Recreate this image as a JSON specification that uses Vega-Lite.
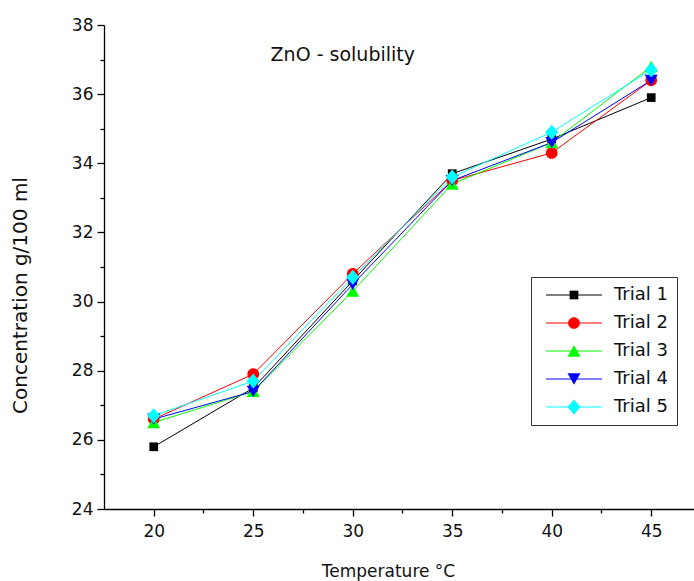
{
  "$schema": "https://vega.github.io/schema/vega-lite/v6.json",
  "autosize": "none",
  "width": 590,
  "height": 484,
  "padding": {"left": 104, "top": 25, "right": 0, "bottom": 72},
  "background": "white",
  "config": {
    "view": {"stroke": null},
    "font": "DejaVu Sans",
    "axis": {
      "grid": false,
      "domainColor": "#000000",
      "domainWidth": 1.3,
      "tickColor": "#000000",
      "tickWidth": 1.3,
      "labelColor": "#111111",
      "labelFont": "DejaVu Sans",
      "labelFontSize": 17,
      "titleFont": "DejaVu Sans",
      "titleFontSize": 17,
      "titleFontWeight": "normal",
      "titleColor": "#111111",
      "labelOverlap": false
    }
  },
  "data": {
    "values": [
      {"trial": "Trial 1", "temp": 20, "conc": 25.8},
      {"trial": "Trial 1", "temp": 25, "conc": 27.5},
      {"trial": "Trial 1", "temp": 30, "conc": 30.6},
      {"trial": "Trial 1", "temp": 35, "conc": 33.7},
      {"trial": "Trial 1", "temp": 40, "conc": 34.7},
      {"trial": "Trial 1", "temp": 45, "conc": 35.9},
      {"trial": "Trial 2", "temp": 20, "conc": 26.6},
      {"trial": "Trial 2", "temp": 25, "conc": 27.9},
      {"trial": "Trial 2", "temp": 30, "conc": 30.8},
      {"trial": "Trial 2", "temp": 35, "conc": 33.5},
      {"trial": "Trial 2", "temp": 40, "conc": 34.3},
      {"trial": "Trial 2", "temp": 45, "conc": 36.4},
      {"trial": "Trial 3", "temp": 20, "conc": 26.5},
      {"trial": "Trial 3", "temp": 25, "conc": 27.4},
      {"trial": "Trial 3", "temp": 30, "conc": 30.3},
      {"trial": "Trial 3", "temp": 35, "conc": 33.4},
      {"trial": "Trial 3", "temp": 40, "conc": 34.6},
      {"trial": "Trial 3", "temp": 45, "conc": 36.8},
      {"trial": "Trial 4", "temp": 20, "conc": 26.6},
      {"trial": "Trial 4", "temp": 25, "conc": 27.4},
      {"trial": "Trial 4", "temp": 30, "conc": 30.5},
      {"trial": "Trial 4", "temp": 35, "conc": 33.5},
      {"trial": "Trial 4", "temp": 40, "conc": 34.6},
      {"trial": "Trial 4", "temp": 45, "conc": 36.4},
      {"trial": "Trial 5", "temp": 20, "conc": 26.7},
      {"trial": "Trial 5", "temp": 25, "conc": 27.7},
      {"trial": "Trial 5", "temp": 30, "conc": 30.7},
      {"trial": "Trial 5", "temp": 35, "conc": 33.6},
      {"trial": "Trial 5", "temp": 40, "conc": 34.9},
      {"trial": "Trial 5", "temp": 45, "conc": 36.7}
    ]
  },
  "encoding": {
    "x": {
      "field": "temp",
      "type": "quantitative",
      "scale": {"domain": [17.5, 47.15], "nice": false, "zero": false},
      "axis": {
        "title": "Temperature \u00b0C",
        "values": [20, 22.5, 25, 27.5, 30, 32.5, 35, 37.5, 40, 42.5, 45],
        "labelExpr": "datum.value % 5 === 0 ? datum.label : ''",
        "tickSize": {"condition": {"test": "datum.value % 5 === 0", "value": 7}, "value": 4},
        "labelPadding": 7,
        "titleAlign": "center",
        "titleBaseline": "middle",
        "titleX": 284,
        "titleY": 62
      }
    },
    "y": {
      "field": "conc",
      "type": "quantitative",
      "scale": {"domain": [24, 38], "nice": false, "zero": false},
      "axis": {
        "title": "Concentration g/100 ml",
        "titleFontSize": 20,
        "values": [24, 25, 26, 27, 28, 29, 30, 31, 32, 33, 34, 35, 36, 37, 38],
        "labelExpr": "datum.value % 2 === 0 ? datum.label : ''",
        "tickSize": {"condition": {"test": "datum.value % 2 === 0", "value": 7}, "value": 4},
        "labelPadding": 4,
        "titleAngle": -90,
        "titleAlign": "center",
        "titleBaseline": "middle",
        "titleX": -84,
        "titleY": 270
      }
    }
  },
  "layer": [
    {
      "mark": {"type": "line", "strokeWidth": 1},
      "encoding": {
        "stroke": {
          "field": "trial",
          "type": "nominal",
          "scale": {"range": ["#000000", "#ff0000", "#00ff00", "#0000ff", "#00ffff"]},
          "legend": {
            "title": null,
            "orient": "none",
            "legendX": 427,
            "legendY": 252,
            "padding": 9,
            "strokeColor": "#333333",
            "symbolType": "M-5.6,0H5.6",
            "symbolSize": 100,
            "symbolStrokeWidth": 1,
            "symbolOffset": 25,
            "labelOffset": 31,
            "labelFontSize": 18,
            "labelFont": "DejaVu Sans",
            "labelOpacity": 0,
            "rowPadding": 10
          }
        }
      }
    },
    {
      "mark": {"type": "point", "filled": true, "size": 100, "opacity": 1},
      "encoding": {
        "color": {
          "field": "trial",
          "type": "nominal",
          "scale": {
            "domain": ["Trial 1", "Trial 2", "Trial 3", "Trial 4", "Trial 5"],
            "range": ["#000000", "#ff0000", "#00ff00", "#0000ff", "#00ffff"]
          },
          "legend": {
            "title": null,
            "orient": "none",
            "legendX": 427,
            "legendY": 252,
            "padding": 9,
            "symbolSize": 100,
            "symbolOffset": 25,
            "labelOffset": 31,
            "labelFontSize": 18,
            "labelFont": "DejaVu Sans",
            "labelColor": "#111111",
            "rowPadding": 10
          }
        },
        "shape": {
          "field": "trial",
          "type": "nominal",
          "scale": {
            "domain": ["Trial 1", "Trial 2", "Trial 3", "Trial 4", "Trial 5"],
            "range": [
              "M-0.87,-0.87H0.87V0.87H-0.87Z",
              "M1.17,0A1.17,1.17,0,1,1,-1.17,0A1.17,1.17,0,1,1,1.17,0Z",
              "M0,-1.13L1.3,1.13H-1.3Z",
              "M0,1.13L1.3,-1.13H-1.3Z",
              "M0,-1.5L1.3,0L0,1.5L-1.3,0Z"
            ]
          },
          "legend": {"title": null}
        }
      }
    },
    {
      "transform": [{"filter": "datum.trial === 'Trial 1' && datum.temp === 20"}],
      "mark": {"type": "text", "fontSize": 19, "font": "DejaVu Sans", "align": "center", "baseline": "middle", "color": "#111111"},
      "encoding": {
        "x": {"datum": 29.5},
        "y": {"datum": 37.13},
        "text": {"value": "ZnO - solubility"}
      }
    }
  ]
}
